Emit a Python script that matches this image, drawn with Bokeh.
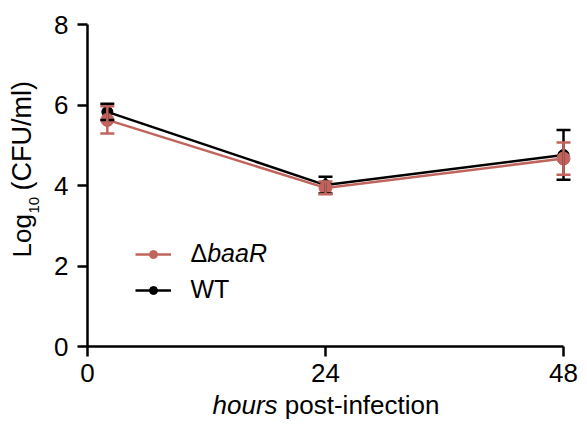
import math
from bokeh.plotting import figure
from bokeh.models import (ColumnDataSource, Whisker, TeeHead, FixedTicker, Range1d,
                          Legend, LegendItem, Label)
from bokeh.embed import file_html
from bokeh.resources import INLINE

# ---- data ----
hours = [2, 24, 48]
wt_mean = [5.83, 4.01, 4.76]
wt_err = [0.20, 0.21, 0.62]
baar_mean = [5.63, 3.94, 4.67]
baar_err = [0.34, 0.16, 0.40]
x_ticks = [0, 24, 48]
y_ticks = [0, 2, 4, 6, 8]

RED = "#C1645D"
BLACK = "#000000"
FONT = "Liberation Sans"

W, H = 587, 425
# pixel geometry of the axes inside the canvas
X0, X48 = 87, 563
Y0, Y8 = 346, 24
sx = (X48 - X0) / 48.0
sy = (Y0 - Y8) / 8.0

p = figure(width=W, height=H, output_backend="svg", toolbar_location=None,
           x_range=Range1d(-X0 / sx, (W - X0) / sx),
           y_range=Range1d(-(H - Y0) / sy, 8 + Y8 / sy))
p.min_border = 0
p.outline_line_color = None
p.grid.visible = False
p.background_fill_color = "white"
p.border_fill_color = "white"

for ax, ticks, bnds in ((p.xaxis[0], x_ticks, (0, 48)), (p.yaxis[0], y_ticks, (0, 8))):
    ax.ticker = FixedTicker(ticks=ticks)
    ax.bounds = bnds
    ax.fixed_location = 0
    ax.axis_line_width = 2.5
    ax.axis_line_color = "black"
    ax.major_tick_line_width = 2.5
    ax.major_tick_line_color = "black"
    ax.major_tick_out = 10
    ax.major_tick_in = 0
    ax.minor_tick_line_color = None
    ax.major_label_text_font = FONT
    ax.major_label_text_font_size = "26px"
    ax.major_label_text_color = "black"
p.xaxis.major_label_standoff = 7
p.yaxis.major_label_standoff = 9


def add_series(mean, err, color, size):
    lower = [m - e for m, e in zip(mean, err)]
    upper = [m + e for m, e in zip(mean, err)]
    src = ColumnDataSource(dict(x=hours, y=mean, lower=lower, upper=upper))
    wk = Whisker(source=src, base="x", lower="lower", upper="upper", level="glyph",
                 line_color=color, line_width=2.5,
                 upper_head=TeeHead(size=14, line_color=color, line_width=2.5),
                 lower_head=TeeHead(size=14, line_color=color, line_width=2.5))
    p.add_layout(wk)
    ln = p.line("x", "y", source=src, line_color=color, line_width=2.5)
    sc = p.scatter("x", "y", source=src, size=size, fill_color=color, line_color=color)
    return ln, sc


wt_l, wt_s = add_series(wt_mean, wt_err, BLACK, 11)
ba_l, ba_s = add_series(baar_mean, baar_err, RED, 13)

legend = Legend(items=[LegendItem(label=" ", renderers=[ba_l, ba_s]),
                       LegendItem(label=" ", renderers=[wt_l, wt_s])],
                location=(135, H - 300), padding=0, margin=0, spacing=16,
                glyph_width=36, glyph_height=20, label_height=20, label_width=0,
                label_standoff=0, label_text_font_size="8px",
                border_line_color=None, background_fill_alpha=0)
p.add_layout(legend, "center")


def dx(px):
    return (px - X0) / sx


def dy(py):
    return (Y0 - py) / sy


def lab(text, px, py, size, style="normal", angle=0):
    p.add_layout(Label(x=dx(px), y=dy(py), text=text, angle=angle,
                       text_font=FONT, text_font_size=size, text_font_style=style,
                       text_align="left", text_baseline="alphabetic", text_color="black"))


# legend texts
lab("\u0394", 190, 252, "25px")
lab("baaR", 206.7, 252, "25px", "italic")
lab("WT", 190, 288, "25px")

# x axis title
lab("hours", 212, 404, "26px", "italic")
lab("post-infection", 284.3, 404, "26px")

# y axis title
up = math.pi / 2
lab("Log", 21, 257, "26px", angle=up)
lab("10", 33.5, 213, "15px", angle=up)
lab("(CFU/ml)", 21, 190, "27px", angle=up)

open("out.html", "w").write(file_html(p, INLINE))
